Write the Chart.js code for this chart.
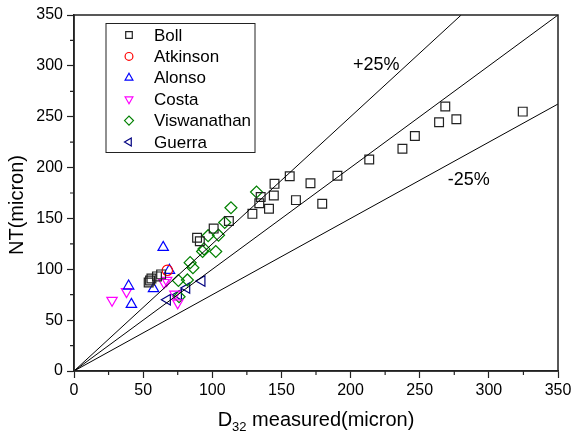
<!DOCTYPE html>
<html>
<head>
<meta charset="utf-8">
<script src="https://cdn.jsdelivr.net/npm/chart.js@4.4.0/dist/chart.umd.min.js"></script>
<style>
  html, body { margin: 0; padding: 0; background: #fff; }
</style>
</head>
<body>
<canvas id="chart" width="571" height="435"></canvas>
<script>
const bollX = [54, 55, 56, 60, 63, 89, 91, 101, 112, 129, 134, 135, 141, 144.5, 145, 156, 160.5, 171, 179.5, 190.5, 213.5, 237.5, 246.5, 264, 268.5, 276.5, 324.5];
const bollY = [87, 89, 91, 93, 95, 131, 127.5, 140, 147.5, 154.5, 165, 171, 159.5, 172.5, 184, 191.5, 168, 184.5, 164.5, 192, 208, 218.5, 231, 244.5, 260, 247.5, 255];

const atkinsonX = [67.5];
const atkinsonY = [99];

const alonsoX = [39.5, 41.5, 57.5, 64.5, 69];
const alonsoY = [83.5, 65.5, 81, 121.5, 99];

const costaX = [27.5, 38, 65, 67, 73, 75];
const costaY = [69.5, 78, 87, 89, 75.5, 67];

const viswanathanX = [75.5, 82, 84, 86, 93, 94, 97, 102.5, 104.5, 109, 113.5, 132, 76];
const viswanathanY = [89, 89.5, 106.5, 101.5, 117.5, 120, 133, 117.5, 133.5, 146, 160.5, 176, 73];

const guerraX = [67.5, 75.5, 81.5, 92.5];
const guerraY = [70, 75, 81.5, 88.5];

// Linhas de referência: 1:1, +25% e -25%
const refLabels = ["1:1", "+25%", "-25%"];
const refLineX = [[0, 350], [0, 280], [0, 350]];
const refLineY = [[0, 350], [0, 350], [0, 262.5]];

// Eixos
const axisMin = 0;
const axisMax = 350;
const majorStep = 50;

const FONT = "'Liberation Sans', Arial, sans-serif";

function toPoints(xs, ys) {
  return xs.map((x, i) => ({ x: x, y: ys[i] }));
}

const seriesInfo = [
  { label: "Boll", xs: bollX, ys: bollY, color: "#222222", style: "rect", rotation: 0, radius: 6.2 },
  { label: "Atkinson", xs: atkinsonX, ys: atkinsonY, color: "#ff0000", style: "circle", rotation: 0, radius: 5.2 },
  { label: "Alonso", xs: alonsoX, ys: alonsoY, color: "#0000ff", style: "triangle", rotation: 0, radius: 6 },
  { label: "Costa", xs: costaX, ys: costaY, color: "#ff00ff", style: "triangle", rotation: 180, radius: 6 },
  { label: "Viswanathan", xs: viswanathanX, ys: viswanathanY, color: "#008000", style: "rectRot", rotation: 0, radius: 6 },
  { label: "Guerra", xs: guerraX, ys: guerraY, color: "#000080", style: "triangle", rotation: 270, radius: 6 },
];

const datasets = [];

// Linhas de referência primeiro
refLabels.forEach((name, i) => {
  datasets.push({
    type: "line",
    label: name,
    data: toPoints(refLineX[i], refLineY[i]),
    borderColor: "#000",
    borderWidth: 1,
    pointRadius: 0,
    fill: false,
  });
});

seriesInfo.forEach((s) => {
  datasets.push({
    type: "scatter",
    label: s.label,
    data: toPoints(s.xs, s.ys),
    pointStyle: s.style,
    rotation: s.rotation,
    pointRadius: s.radius,
    pointBorderWidth: 1.2,
    pointBorderColor: s.color,
    pointBackgroundColor: "rgba(0,0,0,0)",
  });
});

// Plugin para moldura, ticks menores, textos e legenda
const extrasPlugin = {
  id: "extras",
  afterDraw(chart) {
    const ctx = chart.ctx;
    const area = chart.chartArea;
    const xs = chart.scales.x;
    const ys = chart.scales.y;

    ctx.save();

    // Moldura
    ctx.strokeStyle = "#222";
    ctx.lineWidth = 1.5;
    ctx.strokeRect(area.left, area.top, area.right - area.left, area.bottom - area.top);

    // Ticks menores
    ctx.lineWidth = 1.2;
    ctx.beginPath();
    for (let v = axisMin + majorStep / 2; v < axisMax; v += majorStep) {
      const px = xs.getPixelForValue(v);
      ctx.moveTo(px, area.bottom);
      ctx.lineTo(px, area.bottom + 4);
      const py = ys.getPixelForValue(v);
      ctx.moveTo(area.left, py);
      ctx.lineTo(area.left - 4, py);
    }
    ctx.stroke();

    // Rótulos das linhas de ±25%
    ctx.fillStyle = "#000";
    ctx.font = "18px " + FONT;
    ctx.textAlign = "center";
    ctx.textBaseline = "middle";
    ctx.fillText("+25%", xs.getPixelForValue(218.5), ys.getPixelForValue(301));
    ctx.fillText("-25%", xs.getPixelForValue(285.5), ys.getPixelForValue(188));

    // Título do eixo X com subscrito
    const titleY = 426;
    ctx.textBaseline = "alphabetic";
    ctx.textAlign = "left";
    ctx.font = "20px " + FONT;
    const dW = ctx.measureText("D").width;
    const restW = ctx.measureText(" measured(micron)").width;
    ctx.font = "13px " + FONT;
    const subW = ctx.measureText("32").width;
    const total = dW + subW + restW;
    let tx = 316 - total / 2;
    ctx.font = "20px " + FONT;
    ctx.fillText("D", tx, titleY);
    tx += dW;
    ctx.font = "13px " + FONT;
    ctx.fillText("32", tx, titleY + 5);
    tx += subW;
    ctx.font = "20px " + FONT;
    ctx.fillText(" measured(micron)", tx, titleY);

    // Título do eixo Y
    ctx.save();
    ctx.translate(17, 205);
    ctx.rotate(-Math.PI / 2);
    ctx.textAlign = "center";
    ctx.textBaseline = "middle";
    ctx.font = "20px " + FONT;
    ctx.fillText("NT(micron)", 0, 0);
    ctx.restore();

    // Legenda
    const box = { left: 106, top: 23.5, width: 149, height: 129 };
    ctx.fillStyle = "#fff";
    ctx.fillRect(box.left, box.top, box.width, box.height);
    ctx.strokeStyle = "#222";
    ctx.lineWidth = 1;
    ctx.strokeRect(box.left, box.top, box.width, box.height);

    seriesInfo.forEach((s, i) => {
      const rowY = 35 + i * 21.4;
      ctx.strokeStyle = s.color;
      ctx.fillStyle = "rgba(0,0,0,0)";
      ctx.lineWidth = 1.2;
      Chart.helpers.drawPoint(ctx, {
        pointStyle: s.style,
        rotation: s.rotation,
        radius: s.radius * 0.75,
        borderWidth: 1.2,
      }, 129, rowY);
      ctx.fillStyle = "#000";
      ctx.font = "17px " + FONT;
      ctx.textAlign = "left";
      ctx.textBaseline = "middle";
      ctx.fillText(s.label, 154, rowY + 1);
    });

    ctx.restore();
  },
};

function initChart() {
  const ctx = document.getElementById("chart").getContext("2d");

  new Chart(ctx, {
    type: "scatter",
    data: { datasets: datasets },
    options: {
      responsive: false,
      animation: false,
      devicePixelRatio: 1,
      layout: { padding: { left: 0, right: 13, top: 15, bottom: 0 } },
      plugins: {
        legend: { display: false },
        tooltip: { enabled: false },
      },
      scales: {
        x: {
          type: "linear",
          min: axisMin,
          max: axisMax,
          ticks: {
            stepSize: majorStep,
            color: "#000",
            font: { family: FONT, size: 16 },
            padding: 3,
            maxRotation: 0,
          },
          grid: {
            drawOnChartArea: false,
            drawTicks: true,
            tickLength: 7,
            tickColor: "#222",
            tickWidth: 1.2,
          },
          border: { display: true, color: "#222", width: 1.5 },
          afterFit(scale) {
            scale.height = 64;
            scale.paddingLeft = 0;
            scale.paddingRight = 0;
          },
        },
        y: {
          type: "linear",
          min: axisMin,
          max: axisMax,
          ticks: {
            stepSize: majorStep,
            color: "#000",
            font: { family: FONT, size: 16 },
            padding: 4,
          },
          grid: {
            drawOnChartArea: false,
            drawTicks: true,
            tickLength: 7,
            tickColor: "#222",
            tickWidth: 1.2,
          },
          border: { display: true, color: "#222", width: 1.5 },
          afterFit(scale) {
            scale.width = 74;
            scale.paddingTop = 0;
            scale.paddingBottom = 0;
          },
        },
      },
    },
    plugins: [extrasPlugin],
  });
}

document.addEventListener("DOMContentLoaded", initChart);
</script>
</body>
</html>
